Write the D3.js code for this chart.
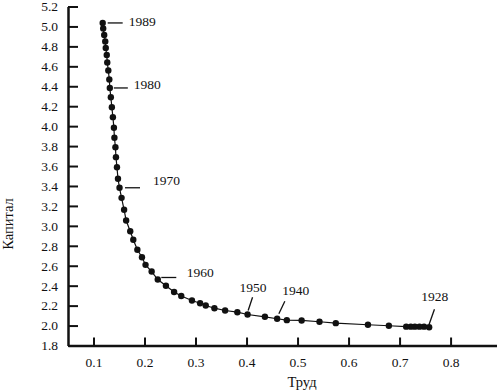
<!DOCTYPE html>
<html>
<head>
<meta charset="utf-8">
<script src="https://cdn.jsdelivr.net/npm/d3@7.9.0/dist/d3.min.js"></script>
<style>
  body { margin: 0; background: #fff; }
  svg { display: block; font-family: "Liberation Serif", "Times New Roman", serif; }
  .tick text { font-size: 13.5px; fill: #111; }
</style>
</head>
<body>
<svg width="497" height="390"></svg>
<script>
// years, labour (Труд) and capital (Капитал)
const years = [1928, 1929, 1930, 1931, 1932, 1933, 1934, 1935, 1936, 1937, 1938, 1939, 1940, 1945,
  1950, 1951, 1952, 1953, 1954, 1955, 1956, 1957, 1958, 1959,
  1960, 1961, 1962, 1963, 1964, 1965, 1966, 1967, 1968, 1969,
  1970, 1971, 1972, 1973, 1974, 1975, 1976, 1977, 1978, 1979,
  1980, 1981, 1982, 1983, 1984, 1985, 1986, 1987, 1988, 1989];
const labour = [0.758, 0.748, 0.739, 0.730, 0.722, 0.713, 0.679, 0.638, 0.575, 0.543, 0.508, 0.479, 0.460, 0.436,
  0.402, 0.382, 0.358, 0.337, 0.320, 0.309, 0.293, 0.272, 0.258, 0.242,
  0.226, 0.214, 0.202, 0.195, 0.186, 0.178, 0.172, 0.164, 0.160, 0.155,
  0.151, 0.148, 0.146, 0.144, 0.143, 0.141, 0.140, 0.138, 0.136, 0.134,
  0.132, 0.131, 0.129, 0.127, 0.126, 0.124, 0.123, 0.121, 0.119, 0.118];
const capital = [1.983, 1.989, 1.989, 1.989, 1.989, 1.989, 1.998, 2.008, 2.024, 2.038, 2.051, 2.054, 2.068, 2.088,
  2.111, 2.134, 2.151, 2.174, 2.201, 2.224, 2.251, 2.296, 2.337, 2.399,
  2.462, 2.542, 2.609, 2.685, 2.760, 2.860, 2.946, 3.054, 3.161, 3.281,
  3.382, 3.472, 3.588, 3.689, 3.789, 3.883, 3.984, 4.090, 4.190, 4.290,
  4.383, 4.468, 4.558, 4.638, 4.714, 4.784, 4.849, 4.914, 4.980, 5.035];
const xTicks = [0.1, 0.2, 0.3, 0.4, 0.5, 0.6, 0.7, 0.8];
const yTicks = [1.8, 2.0, 2.2, 2.4, 2.6, 2.8, 3.0, 3.2, 3.4, 3.6, 3.8, 4.0, 4.2, 4.4, 4.6, 4.8, 5.0, 5.2];
const labelYears = [1989, 1980, 1970, 1960, 1950, 1940, 1928];

// leader line + text offsets (px) relative to each labelled point
const labelPos = {
  1989: { line: [[5, 0], [20, 0]], text: [26, -1.5], anchor: 'start' },
  1980: { line: [[4, 0], [18, 0]], text: [24, -3.5], anchor: 'start' },
  1970: { line: [[5.5, 0], [20.5, 0]], text: [33.5, -7], anchor: 'start' },
  1960: { line: [[3.5, -2], [18.5, -2]], text: [29, -7], anchor: 'start' },
  1950: { line: [[0.6, -4], [5, -17.3]], text: [5.5, -27], anchor: 'middle' },
  1940: { line: [[1.7, -5], [7.7, -17.6]], text: [18.7, -29], anchor: 'middle' },
  1928: { line: [[0, -3], [5.3, -18]], text: [5.5, -30.6], anchor: 'middle' }
};

const data = years.map((yr, i) => ({ year: yr, l: labour[i], k: capital[i] }));

const svg = d3.select('svg');
const x = d3.scaleLinear().domain([0.05, 0.891]).range([68, 497]);
const y = d3.scaleLinear().domain([1.8, 5.2]).range([345.5, 6.5]);

// axes, ticks point inwards
const gx = svg.append('g')
  .attr('transform', 'translate(0,345.5)')
  .call(d3.axisBottom(x).tickValues(xTicks).tickFormat(d3.format('.1f'))
    .tickSize(-8).tickSizeOuter(0).tickPadding(12));
const gy = svg.append('g')
  .attr('transform', 'translate(68,0)')
  .call(d3.axisLeft(y).tickValues(yTicks).tickFormat(d3.format('.1f'))
    .tickSize(-10).tickSizeOuter(0).tickPadding(10));

[gx, gy].forEach(g => {
  g.attr('font-family', null).attr('font-size', null); // keep the serif face
  g.select('.domain').attr('stroke', '#111').attr('stroke-width', 2.5);
  g.selectAll('.tick line').attr('stroke', '#111').attr('stroke-width', 2);
  g.selectAll('.tick text').attr('fill', '#111');
});

// axis titles
svg.append('text')
  .attr('x', 302).attr('y', 387)
  .attr('text-anchor', 'middle')
  .attr('font-size', 14.5)
  .attr('fill', '#111')
  .text('Труд');
svg.append('text')
  .attr('transform', 'translate(13,224) rotate(-90)')
  .attr('text-anchor', 'middle')
  .attr('font-size', 14.5)
  .attr('fill', '#111')
  .text('Капитал');

// curve and points
const line = d3.line().x(d => x(d.l)).y(d => y(d.k));
svg.append('path')
  .datum(data)
  .attr('d', line)
  .attr('fill', 'none')
  .attr('stroke', '#111')
  .attr('stroke-width', 1.2);

svg.append('g')
  .selectAll('circle')
  .data(data)
  .enter()
  .append('circle')
  .attr('cx', d => x(d.l))
  .attr('cy', d => y(d.k))
  .attr('r', 3.2)
  .attr('fill', '#111');

// year labels
const ann = svg.append('g');
labelYears.forEach(yr => {
  let d = data.find(p => p.year === yr);
  let px = x(d.l), py = y(d.k);
  let p = labelPos[yr];
  ann.append('line')
    .attr('x1', px + p.line[0][0]).attr('y1', py + p.line[0][1])
    .attr('x2', px + p.line[1][0]).attr('y2', py + p.line[1][1])
    .attr('stroke', '#111')
    .attr('stroke-width', 1.3);
  ann.append('text')
    .attr('x', px + p.text[0]).attr('y', py + p.text[1])
    .attr('dy', '0.35em')
    .attr('text-anchor', p.anchor)
    .attr('font-size', 13.5)
    .attr('fill', '#111')
    .text(yr);
});
</script>
</body>
</html>
